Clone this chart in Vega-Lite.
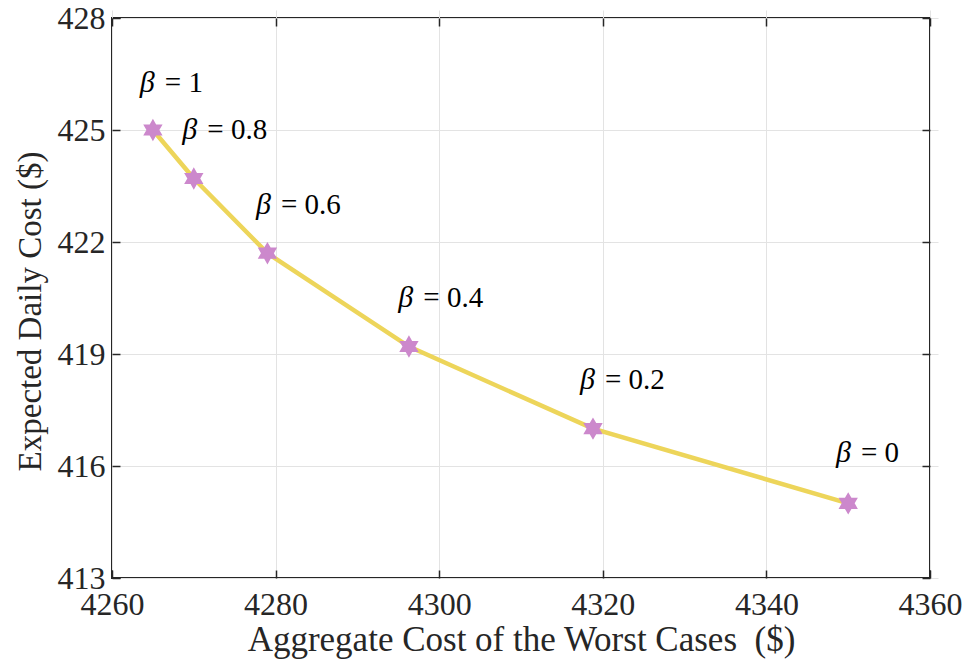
{
  "$schema": "https://vega.github.io/schema/vega-lite/v6.json",
  "autosize": "none",
  "width": 818,
  "height": 560,
  "padding": {"left": 112, "top": 18, "right": 34, "bottom": 93},
  "background": "white",
  "config": {
    "font": "Liberation Serif",
    "view": {"stroke": "#262626", "strokeWidth": 2},
    "axis": {
      "domain": false,
      "offset": -8,
      "tickColor": "#262626",
      "tickSize": 8,
      "tickWidth": 1.5,
      "gridColor": "#e3e3e3",
      "gridWidth": 1,
      "labelFlush": false,
      "labelFont": "Liberation Serif",
      "labelFontSize": 32,
      "labelColor": "#262626",
      "titleFont": "Liberation Serif",
      "titleFontSize": 34,
      "titleFontWeight": "normal",
      "titleColor": "#262626",
      "format": "d"
    }
  },
  "datasets": {
    "pts": [
      {"worst": 4265, "expected": 425.0},
      {"worst": 4270, "expected": 423.7},
      {"worst": 4279, "expected": 421.7},
      {"worst": 4296.3, "expected": 419.2},
      {"worst": 4318.8, "expected": 417.0},
      {"worst": 4350, "expected": 415.0}
    ],
    "labels": [
      {"lx": 4263.4, "ly": 426.25, "txt": "= 1"},
      {"lx": 4268.6, "ly": 425.0, "txt": "= 0.8"},
      {"lx": 4277.6, "ly": 423.0, "txt": "= 0.6"},
      {"lx": 4295.0, "ly": 420.5, "txt": "= 0.4"},
      {"lx": 4317.2, "ly": 418.3, "txt": "= 0.2"},
      {"lx": 4348.5, "ly": 416.35, "txt": "= 0"}
    ]
  },
  "layer": [
    {
      "data": {"name": "pts"},
      "mark": {"type": "line", "color": "#EDD55A", "strokeWidth": 4.5},
      "encoding": {
        "x": {"field": "worst", "type": "quantitative",
              "scale": {"domain": [4260, 4360], "nice": false, "zero": false},
              "axis": {"orient": "bottom", "values": [4260, 4280, 4300, 4320, 4340, 4360],
                       "title": "Aggregate Cost of the Worst Cases \u00a0($)", "titleFontSize": 35, "labelPadding": 11, "titlePadding": 2}},
        "y": {"field": "expected", "type": "quantitative",
              "scale": {"domain": [413, 428], "nice": false, "zero": false},
              "axis": {"orient": "left", "values": [413, 416, 419, 422, 425, 428],
                       "title": "Expected Daily Cost ($)", "titleFontSize": 33, "titleY": 293, "labelPadding": 7, "titlePadding": 10}}
      }
    },
    {
      "data": {"name": "pts"},
      "mark": {"type": "point", "filled": true, "color": "#CC88CC", "opacity": 1, "size": 500, "strokeWidth": 0,
               "shape": "M0,-1L0.289,-0.5L0.866,-0.5L0.577,0L0.866,0.5L0.289,0.5L0,1L-0.289,0.5L-0.866,0.5L-0.577,0L-0.866,-0.5L-0.289,-0.5Z"},
      "encoding": {
        "x": {"field": "worst", "type": "quantitative",
              "axis": {"orient": "top", "values": [4260, 4280, 4300, 4320, 4340, 4360], "labels": false, "title": null, "grid": false}},
        "y": {"field": "expected", "type": "quantitative",
              "axis": {"orient": "right", "values": [413, 416, 419, 422, 425, 428], "labels": false, "title": null, "grid": false}}
      }
    },
    {
      "data": {"name": "labels"},
      "mark": {"type": "text", "text": "β", "align": "left", "baseline": "middle", "font": "Liberation Serif", "fontStyle": "italic", "fontSize": 30, "color": "#000000"},
      "encoding": {
        "x": {"field": "lx", "type": "quantitative", "axis": null},
        "y": {"field": "ly", "type": "quantitative", "axis": null}
      }
    },
    {
      "data": {"name": "labels"},
      "mark": {"type": "text", "align": "left", "baseline": "middle", "dx": 25, "font": "Liberation Serif", "fontSize": 29, "color": "#000000"},
      "encoding": {
        "x": {"field": "lx", "type": "quantitative", "axis": null},
        "y": {"field": "ly", "type": "quantitative", "axis": null},
        "text": {"field": "txt"}
      }
    }
  ]
}
